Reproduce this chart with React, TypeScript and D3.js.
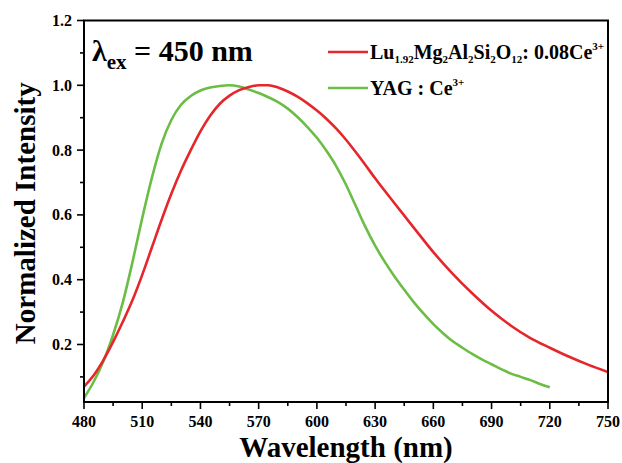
import React from "react";
import * as d3 from "d3";

const redWavelength = [480, 485, 490, 495, 500, 505, 510, 515, 520, 525, 530, 535, 540, 545, 550, 555, 560, 565, 570, 575, 580, 585, 590, 595, 600, 605, 610, 615, 620, 625, 630, 640, 650, 660, 670, 680, 690, 700, 710, 720, 730, 740, 750];
const redIntensity = [0.07, 0.105, 0.152, 0.208, 0.27, 0.337, 0.415, 0.5, 0.585, 0.665, 0.737, 0.8, 0.858, 0.906, 0.943, 0.968, 0.985, 0.995, 1.0, 1.0, 0.993, 0.981, 0.965, 0.945, 0.922, 0.896, 0.866, 0.832, 0.794, 0.754, 0.713, 0.636, 0.56, 0.485, 0.418, 0.358, 0.304, 0.258, 0.22, 0.19, 0.162, 0.137, 0.115];

const greenWavelength = [480, 485, 490, 495, 500, 505, 510, 515, 520, 525, 530, 535, 540, 545, 550, 555, 560, 565, 570, 575, 580, 585, 590, 595, 600, 605, 610, 615, 620, 625, 630, 635, 640, 645, 650, 655, 660, 665, 670, 675, 680, 685, 690, 695, 700, 705, 710, 715, 720];
const greenIntensity = [0.035, 0.085, 0.148, 0.23, 0.33, 0.455, 0.59, 0.715, 0.82, 0.893, 0.94, 0.967, 0.984, 0.993, 0.998, 1.0, 0.996, 0.987, 0.976, 0.963, 0.948, 0.928, 0.902, 0.872, 0.838, 0.797, 0.75, 0.693, 0.628, 0.563, 0.505, 0.455, 0.41, 0.369, 0.33, 0.295, 0.263, 0.235, 0.21, 0.19, 0.171, 0.154, 0.139, 0.124, 0.11, 0.1, 0.09, 0.078, 0.068];

const xMajorTicks = [480, 510, 540, 570, 600, 630, 660, 690, 720, 750];
const xMinorTicks = [495, 525, 555, 585, 615, 645, 675, 705, 735];
const yMajorTicks = [0.2, 0.4, 0.6, 0.8, 1.0, 1.2];
const yMinorTicks = [0.1, 0.3, 0.5, 0.7, 0.9, 1.1];

const RED = "#e5262a";
const GREEN = "#6bbd45";
const FONT = "Liberation Serif, Tinos, DejaVu Serif, Times New Roman, serif";

export default function App() {
  const W = 622, H = 463;
  const left = 84, right = 608, top = 20.5, bottom = 402;
  const x = d3.scaleLinear().domain([480, 750]).range([left, right]);
  const y = d3.scaleLinear().domain([0.0225, 1.2]).range([bottom, top]);

  const line = d3
    .line<[number, number]>()
    .x((d) => x(d[0]))
    .y((d) => y(d[1]))
    .curve(d3.curveMonotoneX);

  const redPath = line(redWavelength.map((w, i) => [w, redIntensity[i]]) as [number, number][]) || "";
  const greenPath = line(greenWavelength.map((w, i) => [w, greenIntensity[i]]) as [number, number][]) || "";

  const ts: React.CSSProperties = { fontFamily: FONT, fontWeight: 700 };

  return (
    <svg
      width={W}
      height={H}
      style={{ position: "absolute", left: 0, top: 0, background: "#fff" }}
    >
      <rect x={0} y={0} width={W} height={H} fill="#fff" />
      <defs>
        <clipPath id="plot">
          <rect x={left} y={top} width={right - left} height={bottom - top} />
        </clipPath>
      </defs>

      <g clipPath="url(#plot)">
        <path d={greenPath} fill="none" stroke={GREEN} strokeWidth={2.6} />
        <path d={redPath} fill="none" stroke={RED} strokeWidth={2.6} />
      </g>

      <rect x={left} y={top} width={right - left} height={bottom - top} fill="none" stroke="#000" strokeWidth={2} />

      {xMajorTicks.map((t) => (
        <g key={"xm" + t}>
          <line x1={x(t)} x2={x(t)} y1={bottom} y2={bottom + 7} stroke="#000" strokeWidth={1.6} />
          <text x={x(t)} y={427} textAnchor="middle" fontSize={16} style={ts}>
            {t}
          </text>
        </g>
      ))}
      {xMinorTicks.map((t) => (
        <line key={"xn" + t} x1={x(t)} x2={x(t)} y1={bottom} y2={bottom + 4} stroke="#000" strokeWidth={1.6} />
      ))}

      {yMajorTicks.map((t) => (
        <g key={"ym" + t}>
          <line x1={left - 7} x2={left} y1={y(t)} y2={y(t)} stroke="#000" strokeWidth={1.6} />
          <text x={72} y={y(t) + 5.5} textAnchor="end" fontSize={16} style={ts}>
            {d3.format(".1f")(t)}
          </text>
        </g>
      ))}
      {yMinorTicks.map((t) => (
        <line key={"yn" + t} x1={left - 4} x2={left} y1={y(t)} y2={y(t)} stroke="#000" strokeWidth={1.6} />
      ))}

      <text x={(left + right) / 2} y={457} textAnchor="middle" fontSize={29} style={ts}>
        Wavelength (nm)
      </text>
      <text
        transform={`translate(35,${(top + bottom) / 2 + 2}) rotate(-90)`}
        textAnchor="middle"
        fontSize={29}
        style={ts}
      >
        Normalized Intensity
      </text>

      <text x={92} y={61} fontSize={30} style={ts}>
        λ<tspan fontSize={21} dy={8}>ex</tspan>
        <tspan dy={-8}> = 450 nm</tspan>
      </text>

      <line x1={328} x2={368} y1={52} y2={52} stroke={RED} strokeWidth={2.6} />
      <text x={370} y={59} fontSize={20} style={ts}>
        Lu<tspan fontSize={11} dy={4}>1.92</tspan>
        <tspan dy={-4}>Mg</tspan>
        <tspan fontSize={11} dy={4}>2</tspan>
        <tspan dy={-4}>Al</tspan>
        <tspan fontSize={11} dy={4}>2</tspan>
        <tspan dy={-4}>Si</tspan>
        <tspan fontSize={11} dy={4}>2</tspan>
        <tspan dy={-4}>O</tspan>
        <tspan fontSize={11} dy={4}>12</tspan>
        <tspan dy={-4}>: 0.08Ce</tspan>
        <tspan fontSize={11} dy={-9}>3+</tspan>
      </text>
      <line x1={328} x2={368} y1={88} y2={88} stroke={GREEN} strokeWidth={2.6} />
      <text x={370} y={95} fontSize={20} style={ts}>
        YAG : Ce<tspan fontSize={11} dy={-9}>3+</tspan>
      </text>
    </svg>
  );
}
